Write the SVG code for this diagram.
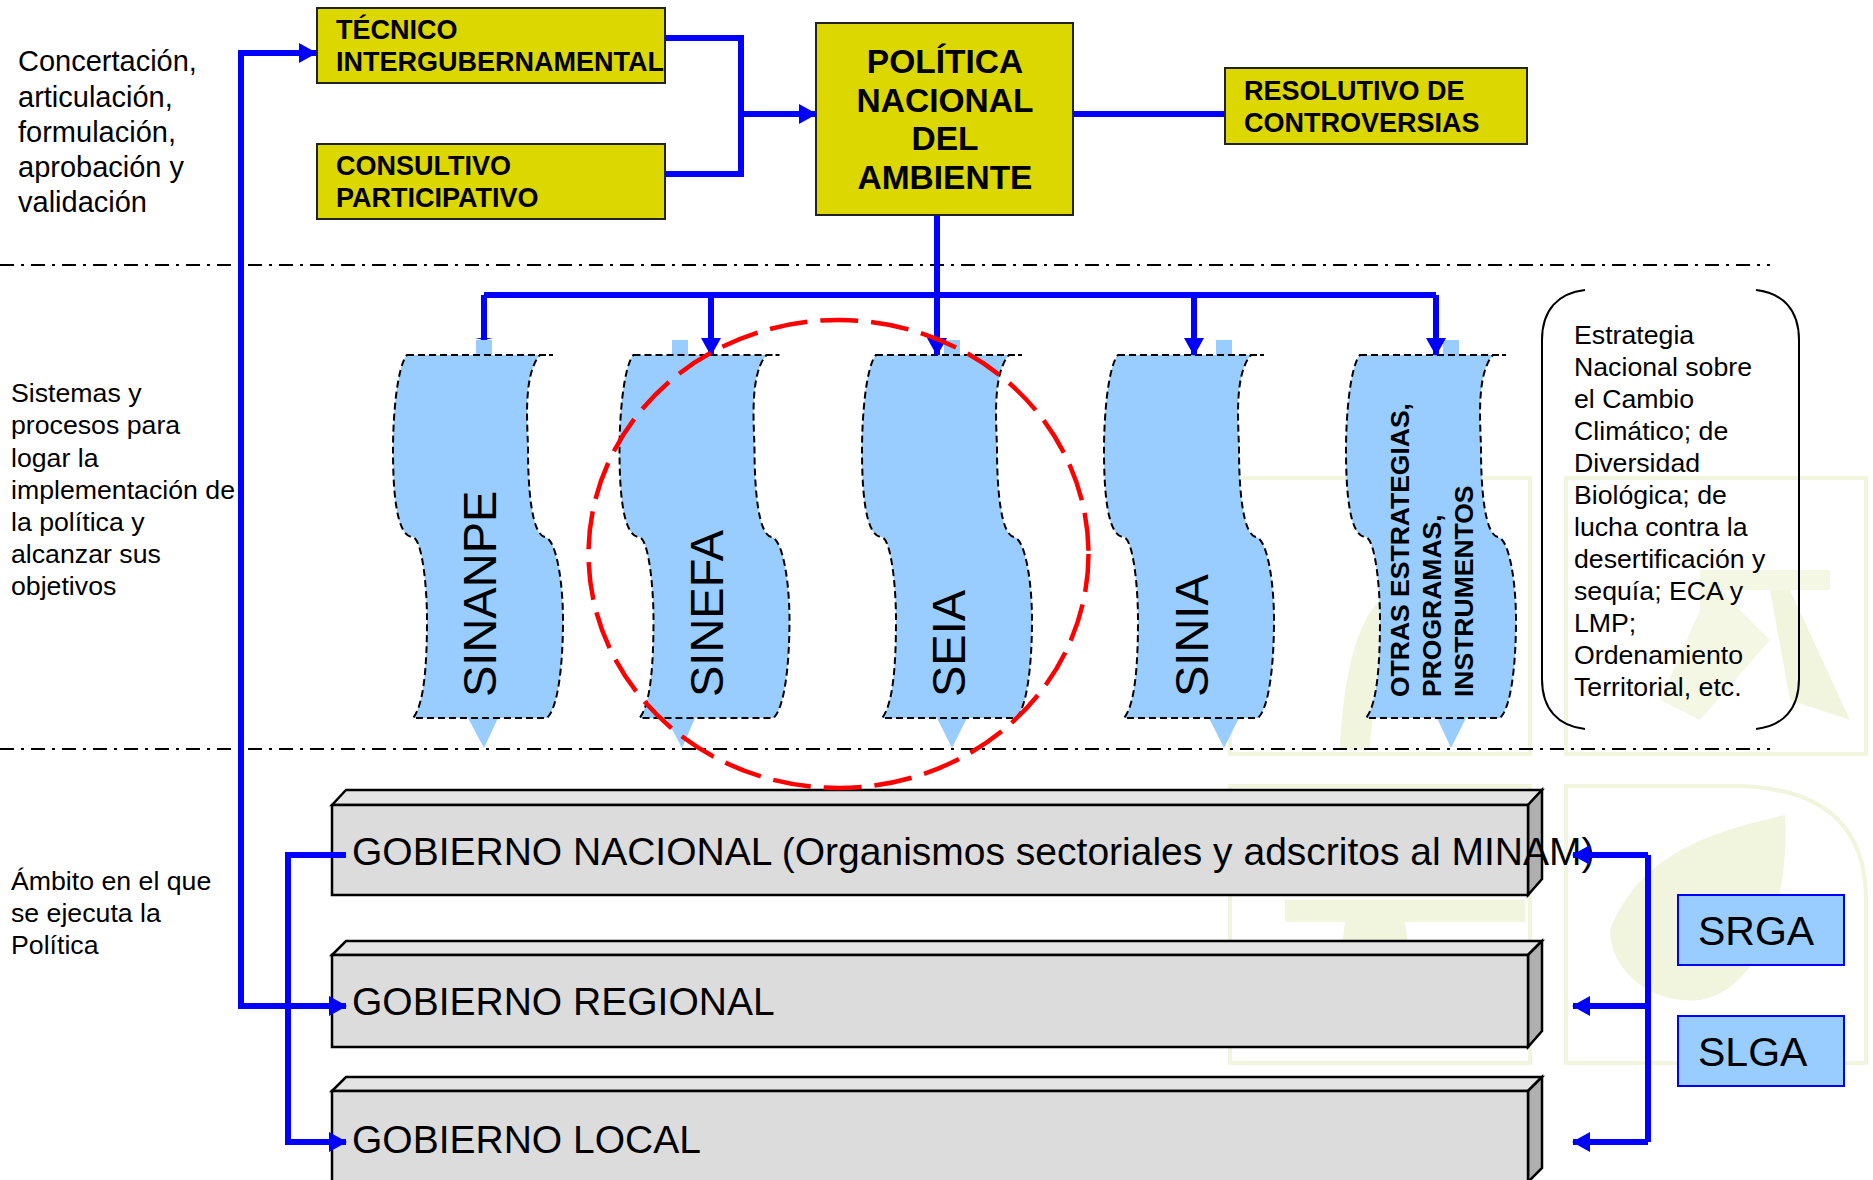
<svg xmlns="http://www.w3.org/2000/svg" width="1873" height="1180" viewBox="0 0 1873 1180">
<style>
text{font-family:"Liberation Sans",Arial,sans-serif;fill:#000}
.lab{font-size:29px}.lab2{font-size:26.7px}.box{font-size:27px;font-weight:bold}.pol{font-size:33.5px;font-weight:bold;text-anchor:middle}
.wv{font-size:47px}.wvb{font-size:26.5px;font-weight:bold}.gov{font-size:39px}.sg{font-size:41px}
.yb{fill:#DDD700;stroke:#222;stroke-width:2}
.wave{fill:#99CCFF;stroke:#000;stroke-width:2;stroke-dasharray:7 4}
.tab{fill:#99CCFF;stroke:none}
.c{fill:none;stroke:#0000FF;stroke-width:6}
.front{fill:#DCDCDC;stroke:#000;stroke-width:2.5}.top{fill:#E4E4E4;stroke:#000;stroke-width:2.5}.side{fill:#B0B0B0;stroke:#000;stroke-width:2.5}
.dd{fill:none;stroke:#000;stroke-width:2;stroke-dasharray:14 7 3 7}
.wm{fill:none;stroke:#F1F5DD;stroke-width:4}.wf{fill:#F1F5DD;stroke:none}
</style>
<defs>
<marker id="ah" markerUnits="userSpaceOnUse" markerWidth="18" markerHeight="20" refX="17" refY="10" orient="auto"><path d="M0 0L18 10L0 20Z" fill="#0000FF"/></marker>
<path id="wavep" d="M407 355H553H540C522 375 528 430 528 450C528 490 532 535 545 537C557 540 563 585 563 620C563 665 558 708 547 718H413C424 705 427 665 427 620C427 585 422 540 413 537C396 537 393 490 393 450C393 410 398 365 407 355Z"/>
</defs>
<g id="watermark">
<rect class="wm" x="1230" y="478" width="300" height="276"/>
<rect class="wm" x="1566" y="478" width="300" height="276"/>
<path class="wm" d="M1230 1063V786H1530V1063Z"/>
<path class="wm" d="M1566 1063V786H1740Q1866 790 1866 900V1063Z"/>
<path class="wf" d="M1340 750C1345 640 1370 600 1395 590C1385 650 1370 720 1370 750Z"/>
<path class="wf" d="M1700 720L1770 640L1720 590H1830V570H1700V610L1660 700Z" opacity=".8"/>
<path class="wf" d="M1770 590H1790L1850 720L1790 700Z"/>
<rect class="wf" x="1285" y="900" width="240" height="22"/>
<path class="wf" d="M1345 922H1405L1410 960H1340Z"/>
<path class="wf" d="M1610 930C1640 850 1720 830 1785 815C1790 900 1760 990 1700 1000C1650 1005 1610 970 1610 930Z"/>
</g>
<g id="separators">
<path class="dd" d="M0 265H1770"/>
<path class="dd" d="M0 749H1770"/>
</g>
<g id="labels">
<text class="lab" x="18" y="71">Concertación,</text>
<text class="lab" x="18" y="106.500">articulación,</text>
<text class="lab" x="18" y="142">formulación,</text>
<text class="lab" x="18" y="177">aprobación y</text>
<text class="lab" x="18" y="212">validación</text>
<text class="lab2" x="11" y="402">Sistemas y</text>
<text class="lab2" x="11" y="434">procesos para</text>
<text class="lab2" x="11" y="467">logar la</text>
<text class="lab2" x="11" y="499">implementación de</text>
<text class="lab2" x="11" y="531">la política y</text>
<text class="lab2" x="11" y="563">alcanzar sus</text>
<text class="lab2" x="11" y="595">objetivos</text>
<text class="lab2" x="11" y="890">Ámbito en el que</text>
<text class="lab2" x="11" y="922">se ejecuta la</text>
<text class="lab2" x="11" y="954">Política</text>
</g>
<g id="wave-sinanpe">
<rect class="tab" x="476" y="340" width="16" height="15"/><path class="tab" d="M468 718H498L484 748Z"/>
<use href="#wavep" class="wave"/>
<text class="wv" transform="translate(496 697) rotate(-90)">SINANPE</text>
</g>
<g id="wave-sinefa">
<rect class="tab" x="672" y="340" width="16" height="15"/><path class="tab" d="M666 718H695L682 748Z"/>
<use href="#wavep" class="wave" x="226.500"/>
<text class="wv" transform="translate(723 697) rotate(-90)">SINEFA</text>
</g>
<g id="wave-seia">
<rect class="tab" x="944" y="340" width="16" height="15"/><path class="tab" d="M937 718H967L952 748Z"/>
<use href="#wavep" class="wave" x="469"/>
<text class="wv" transform="translate(965 697) rotate(-90)">SEIA</text>
</g>
<g id="wave-sinia">
<rect class="tab" x="1216" y="340" width="16" height="15"/><path class="tab" d="M1209 718H1239L1224 748Z"/>
<use href="#wavep" class="wave" x="711"/>
<text class="wv" transform="translate(1208 697) rotate(-90)">SINIA</text>
</g>
<g id="wave-otras">
<rect class="tab" x="1443" y="340" width="16" height="15"/><path class="tab" d="M1437 718H1466L1451 748Z"/>
<use href="#wavep" class="wave" x="953"/>
<text class="wvb" transform="translate(1409 697) rotate(-90)">OTRAS ESTRATEGIAS,</text>
<text class="wvb" transform="translate(1441 697) rotate(-90)">PROGRAMAS,</text>
<text class="wvb" transform="translate(1473 697) rotate(-90)">INSTRUMENTOS</text>
</g>
<g id="gob-nacional">
<path class="top" d="M332 805L346 790H1542L1528 805Z"/><path class="side" d="M1528 805L1542 790V879L1528 895Z"/>
<rect class="front" x="332" y="805" width="1196" height="90"/>
<text class="gov" x="352" y="865">GOBIERNO NACIONAL (Organismos sectoriales y adscritos al MINAM)</text>
</g>
<g id="gob-regional">
<path class="top" d="M332 955L346 941H1542L1528 955Z"/><path class="side" d="M1528 955L1542 941V1031L1528 1047Z"/>
<rect class="front" x="332" y="955" width="1196" height="92"/>
<text class="gov" x="352" y="1015">GOBIERNO  REGIONAL</text>
</g>
<g id="gob-local">
<path class="top" d="M332 1091L346 1077H1542L1528 1091Z"/><path class="side" d="M1528 1091L1542 1077V1168L1528 1182Z"/>
<rect class="front" x="332" y="1091" width="1196" height="95"/>
<text class="gov" x="352" y="1153">GOBIERNO LOCAL</text>
</g>
<g id="connectors">
<path class="c" d="M665 38H741V174H665"/>
<path class="c" marker-end="url(#ah)" d="M741 114H816"/>
<path class="c" d="M1073 114H1224"/>
<path class="c" marker-end="url(#ah)" d="M346 1006H241V53H316"/>
<path class="c" marker-end="url(#ah)" d="M241 1006H346"/>
<path class="c" marker-end="url(#ah)" d="M346 855H288V1142H346"/>
<path class="c" d="M1648 855V1142"/>
<path class="c" marker-end="url(#ah)" d="M1648 855H1573"/>
<path class="c" marker-end="url(#ah)" d="M1648 1006H1573"/>
<path class="c" marker-end="url(#ah)" d="M1648 1142H1573"/>
<path class="c" d="M937 215V355"/>
<path class="c" d="M484 295H1436"/>
<path class="c" d="M484 295V340"/>
<path fill="#0000FF" d="M475 338H493L484 340Z"/>
<path class="c" marker-end="url(#ah)" d="M711 295V355"/>
<path class="c" marker-end="url(#ah)" d="M937 295V355"/>
<path class="c" marker-end="url(#ah)" d="M1194 295V355"/>
<path class="c" marker-end="url(#ah)" d="M1436 295V355"/>
</g>
<g id="tecnico"><rect class="yb" x="317" y="8" width="348" height="75"/>
<text class="box" x="336" y="39">TÉCNICO</text><text class="box" x="336" y="71">INTERGUBERNAMENTAL</text></g>
<g id="consultivo"><rect class="yb" x="317" y="144" width="348" height="75"/>
<text class="box" x="336" y="175">CONSULTIVO</text><text class="box" x="336" y="207">PARTICIPATIVO</text></g>
<g id="politica"><rect class="yb" x="816" y="23" width="257" height="192"/>
<text class="pol" x="945" y="73">POLÍTICA</text><text class="pol" x="945" y="112">NACIONAL</text><text class="pol" x="945" y="150">DEL</text><text class="pol" x="945" y="189">AMBIENTE</text></g>
<g id="resolutivo"><rect class="yb" x="1225" y="68" width="302" height="76"/>
<text class="box" x="1244" y="100">RESOLUTIVO DE</text><text class="box" x="1244" y="132">CONTROVERSIAS</text></g>
<g id="estrategia">
<path fill="none" stroke="#000" stroke-width="2" d="M1585 290C1558 293 1542 310 1542 340V679C1542 709 1558 726 1585 729M1756 290C1783 293 1799 310 1799 340V679C1799 709 1783 726 1756 729"/>
<text class="lab2" x="1574" y="344">Estrategia</text>
<text class="lab2" x="1574" y="376">Nacional sobre</text>
<text class="lab2" x="1574" y="408">el Cambio</text>
<text class="lab2" x="1574" y="440">Climático; de</text>
<text class="lab2" x="1574" y="472">Diversidad</text>
<text class="lab2" x="1574" y="504">Biológica; de</text>
<text class="lab2" x="1574" y="536">lucha contra la</text>
<text class="lab2" x="1574" y="568">desertificación y</text>
<text class="lab2" x="1574" y="600">sequía; ECA y</text>
<text class="lab2" x="1574" y="632">LMP;</text>
<text class="lab2" x="1574" y="664">Ordenamiento</text>
<text class="lab2" x="1574" y="696">Territorial, etc.</text>
</g>
<g id="srga"><rect x="1678" y="895" width="166" height="70" fill="#99CCFF" stroke="#0000FF" stroke-width="2"/><text class="sg" x="1698" y="945">SRGA</text></g>
<g id="slga"><rect x="1678" y="1016" width="166" height="70" fill="#99CCFF" stroke="#0000FF" stroke-width="2"/><text class="sg" x="1698" y="1066">SLGA</text></g>
<ellipse id="circulo" cx="838.500" cy="554" rx="250" ry="234" fill="none" stroke="#FF0000" stroke-width="4.500" stroke-dasharray="38 13"/>
</svg>
